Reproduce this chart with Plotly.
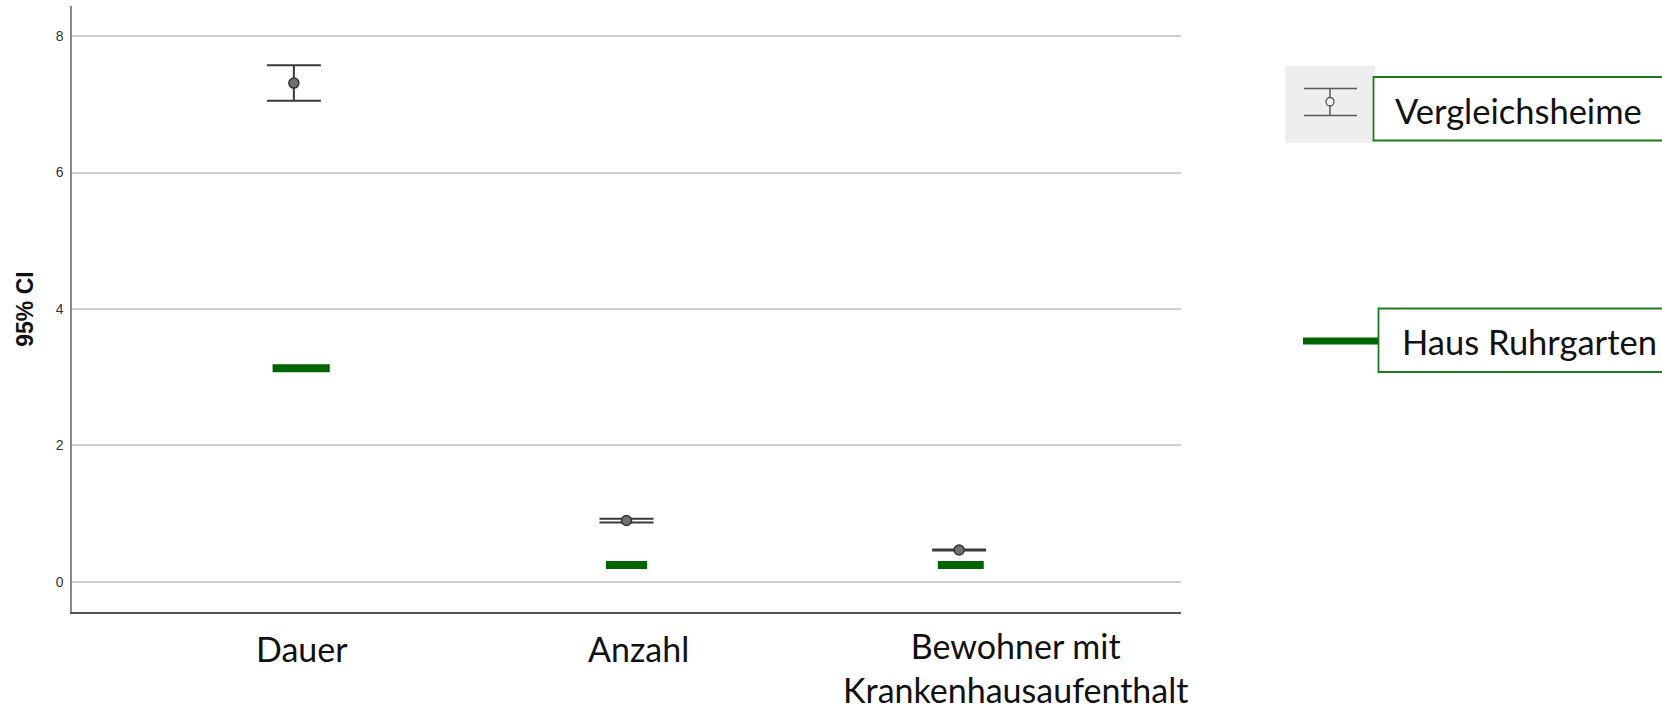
import plotly.graph_objects as go

# Categories and values
categories = ["Dauer", "Anzahl", "Bewohner mit<br>Krankenhausaufenthalt"]
vergleich_mean = [7.31, 0.90, 0.468]
vergleich_lower = [7.05, 0.873, 0.461]
vergleich_upper = [7.57, 0.927, 0.476]
haus_ruhrgarten = [3.13, 0.25, 0.25]

y_ticks = [0, 2, 4, 6, 8]

# styling of the house markers (half width and offset in category units)
house_halfwidth = [0.086, 0.062, 0.069]
house_offset = [0.022, 0.0, 0.005]

# category captions below the axis (pixel centre x, pixel centre y)
caption_x = [301.5, 638, 1015]
caption_y = [648, 648, 667]

W, H = 1662, 709
ML, MR, MT, MB = 72, 481, 6, 97
PW, PH = W - ML - MR, H - MT - MB

GREEN = "#006400"
BOX_GREEN = "#1f7a1f"
FONT_CAL = "Lato, 'Open Sans', sans-serif"
FONT_ARIAL = "'Liberation Sans', Arial, sans-serif"


def px(x):
    return (x - ML) / PW


def py(y):
    return (H - MB - y) / PH


xpos = list(range(len(categories)))

fig = go.Figure()

# confidence intervals of the comparison homes
fig.add_trace(go.Scatter(
    x=xpos,
    y=vergleich_mean,
    mode="markers",
    marker=dict(size=10, color="#707070", line=dict(color="#333333", width=1.5)),
    error_y=dict(
        type="data",
        symmetric=False,
        array=[u - m for u, m in zip(vergleich_upper, vergleich_mean)],
        arrayminus=[m - l for m, l in zip(vergleich_mean, vergleich_lower)],
        color="#3a3a3a",
        thickness=2,
        width=27,
    ),
    showlegend=False,
    hoverinfo="skip",
))

# house values as short horizontal bars
hx, hy = [], []
for i, v in enumerate(haus_ruhrgarten):
    c = xpos[i] + house_offset[i]
    hx += [c - house_halfwidth[i], c + house_halfwidth[i], None]
    hy += [v, v, None]
fig.add_trace(go.Scatter(
    x=hx, y=hy, mode="lines",
    line=dict(color=GREEN, width=8),
    showlegend=False, hoverinfo="skip",
))

shapes = []
annotations = []

# category captions
for i, cat in enumerate(categories):
    annotations.append(dict(text=cat, xref="paper", yref="paper",
                            x=px(caption_x[i]), y=py(caption_y[i]),
                            xanchor="center", yanchor="middle", showarrow=False,
                            font=dict(family=FONT_CAL, size=34, color="#111111")))

# legend: comparison homes
shapes.append(dict(type="rect", xref="paper", yref="paper",
                   x0=px(1285), x1=px(1375), y0=py(143), y1=py(66),
                   fillcolor="#eeeeee", line=dict(width=0), layer="below"))
for yy in (88.5, 115.5):
    shapes.append(dict(type="line", xref="paper", yref="paper",
                       x0=px(1304), x1=px(1357), y0=py(yy), y1=py(yy),
                       line=dict(color="#5a5a5a", width=1.5)))
shapes.append(dict(type="line", xref="paper", yref="paper",
                   x0=px(1330), x1=px(1330), y0=py(88.5), y1=py(97.5),
                   line=dict(color="#5a5a5a", width=1.5)))
shapes.append(dict(type="line", xref="paper", yref="paper",
                   x0=px(1330), x1=px(1330), y0=py(106), y1=py(115.5),
                   line=dict(color="#5a5a5a", width=1.5)))
shapes.append(dict(type="circle", xref="paper", yref="paper",
                   x0=px(1326), x1=px(1334), y0=py(106), y1=py(97.5),
                   line=dict(color="#5a5a5a", width=1.3), fillcolor="rgba(0,0,0,0)"))
shapes.append(dict(type="rect", xref="paper", yref="paper",
                   x0=px(1373.5), x1=px(1700), y0=py(140.5), y1=py(77),
                   fillcolor="white", line=dict(color=BOX_GREEN, width=1.8)))
annotations.append(dict(text="Vergleichsheime", xref="paper", yref="paper",
                        x=px(1393), y=py(110.5), xanchor="left", yanchor="middle",
                        showarrow=False, font=dict(family=FONT_CAL, size=34.5, color="#111111")))

# legend: house
shapes.append(dict(type="line", xref="paper", yref="paper",
                   x0=px(1303), x1=px(1378), y0=py(341), y1=py(341),
                   line=dict(color=GREEN, width=7)))
shapes.append(dict(type="rect", xref="paper", yref="paper",
                   x0=px(1378.5), x1=px(1700), y0=py(372), y1=py(308.5),
                   fillcolor="white", line=dict(color=BOX_GREEN, width=1.8)))
annotations.append(dict(text="Haus Ruhrgarten", xref="paper", yref="paper",
                        x=px(1400), y=py(341), xanchor="left", yanchor="middle",
                        showarrow=False, font=dict(family=FONT_CAL, size=34.5, color="#111111")))

fig.update_layout(
    width=W, height=H,
    margin=dict(l=ML, r=MR, t=MT, b=MB, pad=0),
    paper_bgcolor="white",
    plot_bgcolor="white",
    shapes=shapes,
    annotations=annotations,
    hovermode=False,
    xaxis=dict(
        range=[-0.667, 2.667],
        tickvals=xpos,
        ticktext=categories,
        showticklabels=False,
        showgrid=False,
        zeroline=False,
        showline=True,
        linecolor="#555555",
        linewidth=1.5,
        ticks="",
        automargin=False,
    ),
    yaxis=dict(
        range=[-0.44, 8.44],
        tickvals=y_ticks,
        ticktext=[str(t) for t in y_ticks],
        tickfont=dict(family=FONT_ARIAL, size=14, color="#333333"),
        showgrid=True,
        gridcolor="#cfcfcf",
        gridwidth=1.5,
        zeroline=False,
        showline=True,
        linecolor="#8a8a8a",
        linewidth=1.5,
        ticks="",
        ticklabelstandoff=4,
        automargin=False,
        title=dict(text="<b>95% CI</b>",
                   font=dict(family=FONT_ARIAL, size=23, color="#111111"),
                   standoff=16),
    ),
)

fig.write_html("out.html", config={"displayModeBar": False})
